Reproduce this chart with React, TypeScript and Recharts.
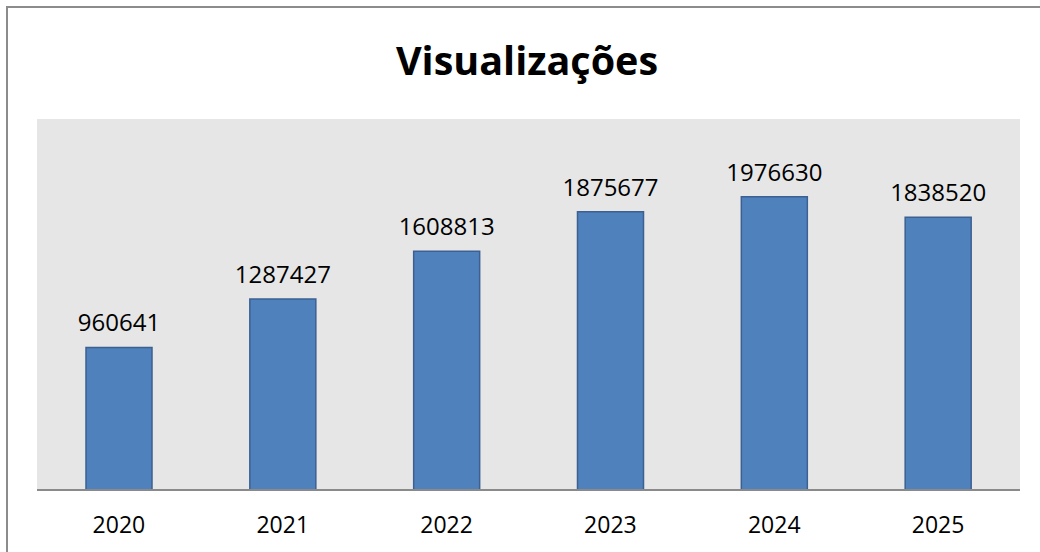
import { Bar, BarChart, CartesianGrid, LabelList, XAxis, YAxis } from "recharts";

const years = ["2020", "2021", "2022", "2023", "2024", "2025"];
const views = [960641, 1287427, 1608813, 1875677, 1976630, 1838520];

const rows = years.map((year, i) => ({ year, views: views[i] }));

const FONT = "'Open Sans', 'Noto Sans', sans-serif";

export default function App() {
  return (
    <div
      style={{
        position: "absolute",
        left: 0,
        top: 0,
        width: 1040,
        height: 552,
        overflow: "hidden",
        background: "#ffffff",
        fontFamily: FONT,
      }}
    >
      <div
        style={{
          position: "absolute",
          left: 6,
          top: 6,
          width: 1100,
          height: 600,
          border: "2px solid #8c8c8c",
        }}
      />
      <div
        style={{
          position: "absolute",
          left: 0,
          top: 34,
          width: 1054,
          textAlign: "center",
          fontSize: 39.5,
          fontWeight: 700,
          lineHeight: "52px",
          color: "#000000",
        }}
      >
        Visualizações
      </div>
      <div style={{ position: "absolute", left: 0, top: 0 }}>
        <BarChart
          width={1040}
          height={552}
          data={rows}
          margin={{ top: 119, right: 20, left: 37, bottom: 0 }}
        >
          <CartesianGrid fill="#e6e6e6" stroke="none" horizontal={false} vertical={false} />
          <YAxis hide domain={[0, 2500000]} />
          <XAxis
            dataKey="year"
            height={62}
            tickLine={false}
            tickSize={0}
            tickMargin={27}
            axisLine={{ stroke: "#8a8a8a", strokeWidth: 2 }}
            tick={{ fill: "#000000", fontSize: 23, fontFamily: FONT }}
          />
          <Bar
            dataKey="views"
            fill="#4f81bd"
            stroke="#3b6091"
            strokeWidth={1.5}
            barSize={66}
            isAnimationActive={false}
          >
            <LabelList
              dataKey="views"
              position="top"
              offset={16}
              style={{ fill: "#000000", fontSize: 24, fontFamily: FONT }}
            />
          </Bar>
        </BarChart>
      </div>
    </div>
  );
}
